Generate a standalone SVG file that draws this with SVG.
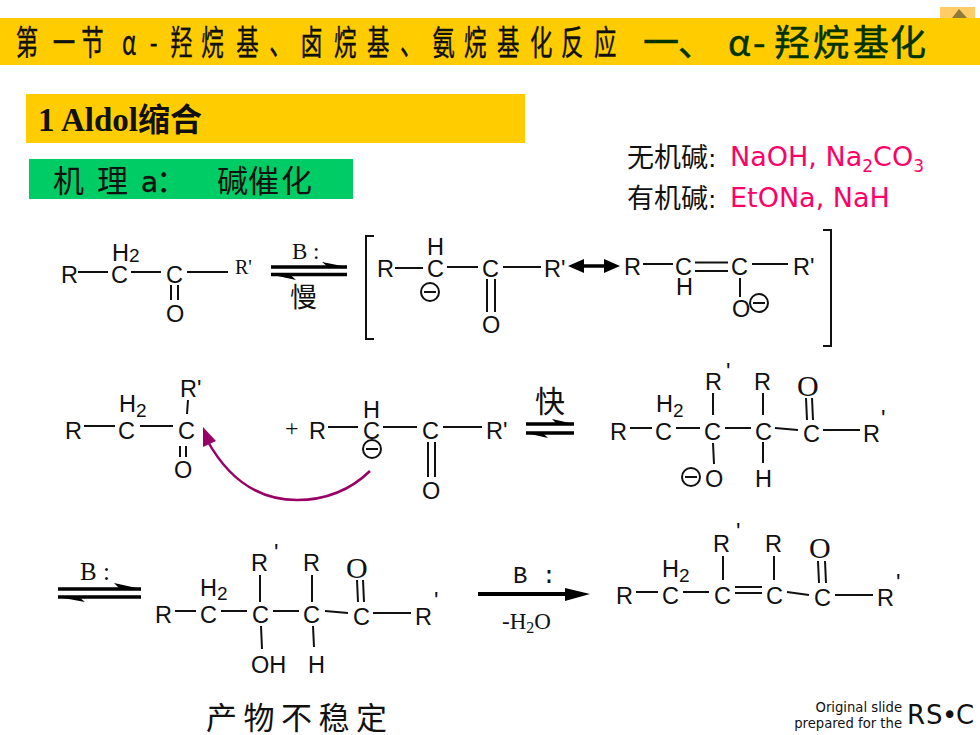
<svg xmlns="http://www.w3.org/2000/svg" width="980" height="735" viewBox="0 0 980 735">
<defs>
<style>
.a{font-family:"Liberation Sans",Arial,sans-serif;font-size:23.500px;fill:#111}
.s{font-size:19px}
.t{font-family:"Liberation Serif","Times New Roman",serif;fill:#111}
.c{font-family:"Noto Sans CJK SC",sans-serif;fill:#111}
.d{font-family:"DejaVu Sans",sans-serif}
.p{fill:#FF0066;font-family:"DejaVu Sans",sans-serif;font-size:27px}
.b{stroke:#111;stroke-width:2;fill:none}
.k{stroke:#000;stroke-width:3.500;fill:none}
.m{fill:#fff;stroke:#111;stroke-width:2}
.h{fill:#000}
</style>
</defs>
<rect width="980" height="735" fill="#fff"/>

<g id="header">
<rect x="940" y="7" width="35" height="12" fill="#FFCC66"/>
<path d="M959 9L952 18H967Z" fill="#8C7A3A"/>
<rect x="0" y="18" width="980" height="47" fill="#FFCC00"/>
<text class="c" font-size="34" stroke="#111" stroke-width=".4" transform="scale(.66 1)" x="24 80 123 185 227 258 305 358 408 455 506 556 606 655 703 753 803 850 900" y="55">第一节α-羟烷基、卤烷基、氨烷基化反应</text>
<text class="c" font-size="36" x="643 678 728 753 774 813 853 890" y="56" style="fill:#003300" stroke="#003300" stroke-width=".5">一、α-羟烷基化</text>
</g>

<g id="title">
<rect x="26" y="94" width="499" height="49" fill="#FFCC00"/>
<text class="t" x="38" y="131" font-size="33" font-weight="700">1 Aldol<tspan font-family="Noto Sans CJK SC,sans-serif" font-size="32">缩合</tspan></text>
</g>

<g id="mechanism">
<rect x="29" y="159" width="324" height="40" fill="#00CC66"/>
<text class="c" font-size="31" x="53 97" y="192">机理</text>
<text class="d" font-size="28" x="141" y="192" fill="#111" stroke="#111" stroke-width=".4">a</text>
<text class="c" font-size="31" x="156 217 248 281" y="192">：碱催化</text>
</g>

<g id="bases">
<text class="c" font-size="27" x="627" y="167">无机碱<tspan class="d" font-size="25">:</tspan></text>
<text class="p" x="730" y="166">NaOH, Na<tspan font-size="17" dy="6">2</tspan><tspan dy="-6">CO</tspan><tspan font-size="17" dy="6">3</tspan></text>
<text class="c" font-size="27" x="627" y="208">有机碱<tspan class="d" font-size="25">:</tspan></text>
<text class="p" x="730" y="207">EtONa, NaH</text>
</g>

<g id="connectors">
<path class="b" d="M78 272H108M131 272H161M187 272H228M171 285V300M178 285V300"/>
<path class="k" d="M271 267H347M271 274.500H347"/>
<path class="h" d="M347 267L322 262L328 267ZM271 274.500L296 280L290 274.500Z"/>
<path class="b" stroke-width="2.500" d="M374 236H366V339H374M823 230H831V346H823"/>
<path class="b" d="M395 268H423M447 267H478M503 267H541M487 279V312M495 279V312M643 264H673M695 262.500H728M695 271H728M752 264H788M740 278V297"/>
<path class="k" d="M580 266H608"/>
<path class="h" d="M568 266L584 259V273ZM620 266L604 259V273Z"/>
<path class="b" d="M84 426H115M140 426H173M188 400L187 414M180 446V457M186 446V457M328 427H358M383 427H417M443 427H482M428 442V477M435 442V477"/>
<path class="k" d="M526 424H574M526 433H574"/>
<path class="h" d="M574 424L552 419L557 424ZM526 433L548 438L543 433Z"/>
<path class="b" d="M630 428H652M676 428H700M725 428H751M775 428L798 430M823 430H860M713 393V415M763 393V415M806 398L807 420M812 398L813 420M713 443L714 464M763 442V463"/>
<path d="M370 471Q340 500 297 500Q240 500 207 440" fill="none" stroke="#990066" stroke-width="2.500"/>
<path d="M203 427L203 447L216 441Z" fill="#990066"/>
<path class="k" d="M58 589H141M58 597H141"/>
<path class="h" d="M141 589L114 583L120 589ZM58 597L85 602L79 597Z"/>
<path class="b" d="M175 611H196M221 611H247M273 611H299M325 611L348 613M373 613H411M260 575V602M312 575V602M357 580L358 602M363 580L364 602M261 626L262 649M313 626L314 647"/>
<path d="M478 594H570" stroke="#000" stroke-width="4" fill="none"/>
<path class="h" d="M590 594L565 588L565 601Z"/>
<path class="b" d="M636 592H658M683 592H709M735 587H762M735 593H762M787 592L809 595M835 595H873M723 556V580M774 556V580M818 561L819 583M825 561L826 583"/>
</g>

<g id="reactant">
<text class="a" x="61" y="283">R</text><text class="a" x="111" y="283">C</text><text class="a" x="166" y="283">C</text>
<text class="a" x="112" y="261">H<tspan class="s" dy="1">2</tspan></text>
<text class="t" x="235" y="274" font-size="20">R'</text>
<text class="a" x="166" y="322">O</text>
</g>
<g id="cond1">
<text class="t" x="292" y="259" font-size="23">B :</text>
<text class="c" x="290" y="307" font-size="27">慢</text>
</g>
<g id="enolate-a">
<text class="a" x="377" y="277">R</text><text class="a" x="427" y="277">C</text>
<text class="a" x="427" y="255">H</text>
<circle class="m" cx="430" cy="292" r="9"/><path class="b" d="M424 292H436"/>
<text class="a" x="482" y="277">C</text><text class="a" x="482" y="333">O</text>
<text class="a" x="544" y="277">R'</text>
</g>
<g id="enolate-b">
<text class="a" x="624" y="275">R</text><text class="a" x="675" y="275">C</text>
<text class="a" x="676" y="295">H</text>
<text class="a" x="731" y="275">C</text>
<text class="a" x="793" y="275">R'</text>
<text class="a" x="732" y="317">O</text>
<circle class="m" cx="759" cy="303" r="9"/><path class="b" d="M753 303H765"/>
</g>

<g id="acceptor">
<text class="a" x="65" y="439">R</text><text class="a" x="118" y="439">C</text>
<text class="a" x="119" y="412">H<tspan class="s" dy="5">2</tspan></text>
<text class="a" x="178" y="439">C</text>
<text class="a" x="180" y="397">R'</text>
<text class="a" x="174" y="478">O</text>
</g>
<g id="nucleophile">
<text class="t" x="285" y="436" font-size="24">+</text>
<text class="a" x="309" y="439">R</text><text class="a" x="363" y="439">C</text>
<text class="a" x="363" y="418">H</text>
<text class="a" x="422" y="439">C</text>
<text class="a" x="422" y="499">O</text>
<text class="a" x="486" y="439">R'</text>
<circle cx="372" cy="449" r="9" fill="none" stroke="#111" stroke-width="2"/><path class="b" d="M366 449H378"/>
</g>
<g id="cond2"><text class="c" x="535" y="412" font-size="30">快</text></g>
<g id="adduct">
<text class="a" x="610" y="440">R</text><text class="a" x="655" y="440">C</text>
<text class="a" x="656" y="412">H<tspan class="s" dy="5">2</tspan></text>
<text class="a" x="704" y="440">C</text><text class="a" x="755" y="440">C</text><text class="a" x="803" y="442">C</text>
<text class="a" x="863" y="442">R</text><text class="a" x="881" y="427">'</text>
<text class="a" x="705" y="390">R</text><text class="a" x="726" y="380">'</text>
<text class="a" x="754" y="390">R</text>
<text class="t" x="797" y="396" font-size="30">O</text>
<text class="a" x="705" y="487">O</text><text class="a" x="755" y="487">H</text>
<circle class="m" cx="691" cy="477" r="9"/><path class="b" d="M685 477H697"/>
</g>

<g id="cond3"><text class="t" x="80" y="580" font-size="25">B :</text></g>
<g id="aldol">
<text class="a" x="155" y="623">R</text><text class="a" x="200" y="623">C</text>
<text class="a" x="200" y="596">H<tspan class="s" dy="4">2</tspan></text>
<text class="a" x="252" y="623">C</text><text class="a" x="303" y="623">C</text><text class="a" x="353" y="625">C</text>
<text class="a" x="415" y="625">R</text><text class="a" x="434" y="609">'</text>
<text class="a" x="251" y="571">R</text><text class="a" x="274" y="561">'</text>
<text class="a" x="303" y="571">R</text>
<text class="t" x="346" y="578" font-size="30">O</text>
<text class="a" x="251" y="673">OH</text><text class="a" x="308" y="673">H</text>
</g>
<g id="unstable"><text class="c" x="206" y="729" font-size="31" letter-spacing="6.500">产物不稳定</text></g>

<g id="cond4">
<text x="513" y="583" font-family="Liberation Mono,monospace" font-size="24" fill="#111">B :</text>
<text class="t" x="502" y="629" font-size="23">-H<tspan font-size="16" dy="4">2</tspan><tspan dy="-4">O</tspan></text>
</g>
<g id="enone">
<text class="a" x="616" y="604">R</text><text class="a" x="662" y="604">C</text>
<text class="a" x="662" y="577">H<tspan class="s" dy="5">2</tspan></text>
<text class="a" x="714" y="604">C</text><text class="a" x="766" y="604">C</text><text class="a" x="814" y="606">C</text>
<text class="a" x="877" y="606">R</text><text class="a" x="896" y="591">'</text>
<text class="a" x="713" y="552">R</text><text class="a" x="736" y="540">'</text>
<text class="a" x="765" y="552">R</text>
<text class="t" x="809" y="558" font-size="30">O</text>
</g>

<g id="credit">
<text class="d" text-anchor="end" x="902" y="712" font-size="13.200" fill="#111">Original slide</text>
<text class="d" text-anchor="end" x="902" y="728" font-size="13.200" fill="#111">prepared for the</text>
<text class="d" x="907 926 942 956" y="724" font-size="26" fill="#111">RS•C</text>
</g>
</svg>
